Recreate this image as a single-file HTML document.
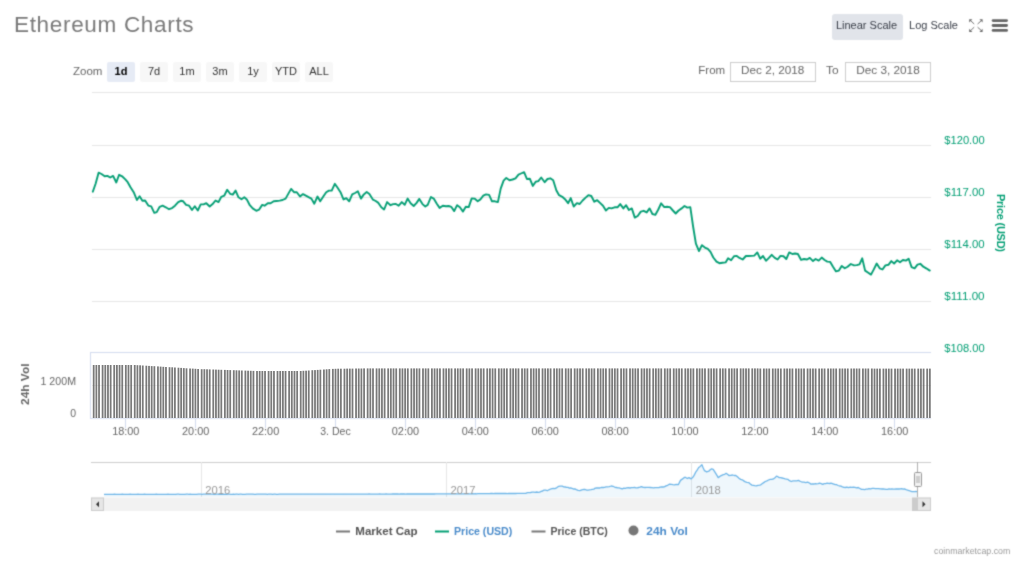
<!DOCTYPE html>
<html><head><meta charset="utf-8"><title>Ethereum Charts</title>
<style>
html,body{margin:0;padding:0;background:#fff;}
body{width:1024px;height:567px;overflow:hidden;position:relative;font-family:"Liberation Sans",sans-serif;}
#wrap{position:absolute;left:0;top:0;width:1024px;height:567px;filter:url(#soft);}
#title{position:absolute;left:14px;top:10px;font-size:22.5px;color:#7a7a7a;letter-spacing:0.68px;white-space:nowrap;line-height:30px;}
.sb{position:absolute;top:14px;height:26px;line-height:23px;font-size:11px;color:#383d47;white-space:nowrap;border-radius:3px;text-align:center;}
#lin{left:832px;width:71px;background:#e1e4ea;text-indent:-2px;}
#log{left:904px;width:59px;}
svg text{font-family:"Liberation Sans",sans-serif;}
</style></head><body>
<svg width="0" height="0" style="position:absolute"><filter id="soft" x="0" y="0" width="100%" height="100%" color-interpolation-filters="sRGB"><feConvolveMatrix order="3" kernelMatrix="0.03 0.10 0.03 0.10 0.48 0.10 0.03 0.10 0.03" edgeMode="duplicate" preserveAlpha="false"/></filter></svg>
<div id="wrap">
<div id="title">Ethereum Charts</div>
<div class="sb" id="lin">Linear Scale</div>
<div class="sb" id="log">Log Scale</div>
<svg width="1024" height="567" viewBox="0 0 1024 567" style="position:absolute;left:0;top:0">
<!-- top icons -->
<g stroke="#707070" stroke-width="1" fill="#6a6a6a">
<path d="M970.5 20.5 L974.2 24 M981.5 20.5 L977.6 24 M970.5 30.7 L974.2 27.2 M981.5 30.7 L977.6 27.2" fill="none"/>
<path d="M969.2 19.2 h3.2 l-3.2 3.2z M982.6 19.2 h-3.2 l3.2 3.2z M969.2 31.9 h3.2 l-3.2 -3.2z M982.6 31.9 h-3.2 l3.2 -3.2z" stroke="none"/>
</g>
<g fill="#666"><rect x="991.7" y="19.2" width="16.3" height="2.8" rx="1.4"/><rect x="991.7" y="24.1" width="16.3" height="2.8" rx="1.4"/><rect x="991.7" y="29" width="16.3" height="2.8" rx="1.4"/></g>
<!-- range selector -->
<text x="73" y="75" font-size="11.5" fill="#666">Zoom</text>
<g font-size="11" fill="#333" text-anchor="middle">
<rect x="107" y="62" width="28" height="20" rx="2" fill="#e6ebf5"/>
<rect x="140" y="62" width="28" height="20" rx="2" fill="#f7f7f7"/>
<rect x="173" y="62" width="28" height="20" rx="2" fill="#f7f7f7"/>
<rect x="206" y="62" width="28" height="20" rx="2" fill="#f7f7f7"/>
<rect x="239" y="62" width="28" height="20" rx="2" fill="#f7f7f7"/>
<rect x="272" y="62" width="28" height="20" rx="2" fill="#f7f7f7"/>
<rect x="305" y="62" width="28" height="20" rx="2" fill="#f7f7f7"/>
<text x="121" y="75" font-weight="bold" fill="#000">1d</text>
<text x="154" y="75">7d</text>
<text x="187" y="75">1m</text>
<text x="220" y="75">3m</text>
<text x="253" y="75">1y</text>
<text x="286" y="75">YTD</text>
<text x="319" y="75">ALL</text>
</g>
<g font-size="11.5" fill="#666">
<text x="698.3" y="74.2">From</text>
<rect x="730.5" y="62.5" width="85" height="19" fill="#fff" stroke="#ccc"/>
<text x="741" y="74.2" textLength="63.3" lengthAdjust="spacingAndGlyphs">Dec 2, 2018</text>
<text x="826" y="74.2" textLength="12.6" lengthAdjust="spacingAndGlyphs">To</text>
<rect x="845.5" y="62.5" width="85" height="19" fill="#fff" stroke="#ccc"/>
<text x="856.2" y="74.2" textLength="63.5" lengthAdjust="spacingAndGlyphs">Dec 3, 2018</text>
</g>
<path d="M92 92.5 H931" stroke="#e6e6e6" fill="none"/>
<!-- price grid -->
<g stroke="#e6e6e6" fill="none"><path d="M92 145.5 H931"/><path d="M92 197.5 H931"/><path d="M92 249.5 H931"/><path d="M92 301.5 H931"/></g>
<g font-size="10" fill="#009e73"><text x="944.3" y="144" textLength="40.3" lengthAdjust="spacingAndGlyphs">$120.00</text><text x="944.3" y="196" textLength="40.3" lengthAdjust="spacingAndGlyphs">$117.00</text><text x="944.3" y="248" textLength="40.3" lengthAdjust="spacingAndGlyphs">$114.00</text><text x="944.3" y="300" textLength="40.3" lengthAdjust="spacingAndGlyphs">$111.00</text><text x="944.3" y="352" textLength="40.3" lengthAdjust="spacingAndGlyphs">$108.00</text></g>
<text transform="translate(997,194) rotate(90)" font-size="11" letter-spacing="-0.25" font-weight="bold" fill="#009e73">Price (USD)</text>
<!-- price line -->
<path d="M92.8 191.7 L95.6 183.8 L98.6 172.7 L101.5 174.0 L104.7 176.3 L107.4 175.9 L110.2 177.5 L113.1 175.9 L116.3 182.5 L119.1 174.8 L122.1 176.3 L125.3 179.4 L127.7 182.2 L130.5 187.3 L133.7 192.2 L136.9 200.0 L139.6 196.2 L142.4 200.8 L145.1 200.5 L148.3 205.6 L151.2 206.3 L154.3 212.9 L156.7 212.1 L159.7 206.8 L162.6 205.7 L165.8 207.3 L169.0 209.2 L172.1 208.1 L175.0 205.7 L178.2 202.1 L180.9 200.8 L183.2 201.3 L186.1 204.8 L189.1 205.7 L192.0 210.0 L194.8 206.3 L197.8 210.5 L200.7 204.4 L203.6 204.4 L206.3 203.2 L209.7 206.5 L212.6 204.1 L215.5 200.5 L218.5 202.1 L221.3 196.8 L224.2 195.7 L227.2 189.8 L230.1 193.8 L232.8 194.6 L235.6 190.6 L238.5 197.3 L241.5 199.2 L244.3 197.3 L246.8 199.4 L249.8 205.2 L252.7 208.4 L256.3 210.8 L259.0 209.7 L262.2 204.9 L264.6 205.7 L267.8 203.2 L270.6 203.3 L273.7 201.3 L276.5 201.0 L279.7 200.6 L282.5 200.0 L285.6 198.6 L288.1 194.1 L291.1 188.9 L294.0 192.2 L296.8 192.2 L300.0 196.5 L303.0 194.1 L305.9 195.7 L309.0 197.3 L311.4 198.6 L314.3 203.7 L317.5 196.5 L320.2 201.3 L323.3 196.5 L326.2 192.2 L328.9 190.6 L331.7 190.6 L334.8 183.8 L337.6 187.8 L340.5 192.2 L343.5 199.4 L346.3 198.1 L349.2 201.3 L352.2 194.4 L355.1 193.0 L357.9 191.3 L361.0 198.6 L363.8 194.4 L366.7 192.1 L369.4 194.1 L373.0 199.7 L375.7 201.0 L378.4 202.9 L381.3 207.3 L384.1 209.5 L387.1 202.1 L390.5 205.2 L393.2 204.1 L395.9 204.0 L398.7 205.7 L401.8 202.1 L404.7 204.8 L407.6 198.6 L410.6 203.2 L413.7 206.0 L416.6 202.9 L419.3 198.9 L422.5 204.1 L425.3 206.5 L427.7 204.9 L430.9 197.0 L433.7 198.6 L436.8 203.7 L439.6 207.9 L442.8 205.7 L446.0 206.3 L448.7 206.0 L451.2 206.8 L454.2 211.1 L457.1 205.2 L459.9 207.3 L463.0 211.6 L465.8 206.8 L468.7 207.1 L471.7 198.4 L474.5 198.6 L477.7 201.3 L480.4 199.4 L483.3 195.7 L486.0 194.4 L489.1 194.9 L492.0 201.3 L494.9 201.3 L497.9 202.1 L500.7 188.6 L503.6 180.6 L506.3 177.9 L509.5 180.2 L512.6 179.5 L515.5 178.3 L518.5 174.6 L521.0 173.5 L524.1 172.2 L526.9 179.0 L529.8 178.7 L532.8 185.9 L535.7 181.7 L538.3 181.1 L541.2 177.5 L544.7 182.2 L547.5 179.0 L550.3 178.3 L553.2 180.2 L556.4 190.5 L559.1 195.2 L562.3 196.8 L565.0 199.2 L568.1 203.2 L570.7 198.1 L573.7 206.5 L576.9 203.2 L579.7 204.0 L582.6 200.5 L585.6 197.6 L588.4 195.2 L591.3 196.0 L594.3 201.7 L597.2 200.2 L600.0 202.9 L603.0 205.7 L605.9 210.5 L608.8 207.9 L611.5 208.4 L614.6 207.3 L617.5 207.3 L620.2 204.1 L623.4 208.4 L626.1 205.2 L628.9 210.0 L631.8 208.4 L634.8 217.6 L637.7 216.0 L640.8 211.6 L643.7 210.8 L646.7 212.4 L649.6 208.4 L652.4 214.0 L655.4 214.8 L658.3 209.5 L661.1 203.3 L664.3 207.1 L667.0 206.8 L669.9 207.1 L672.9 210.5 L675.7 213.5 L678.6 210.5 L681.6 208.4 L684.5 206.0 L687.3 207.6 L690.3 207.1 L693.1 226.5 L695.9 243.7 L699.0 251.1 L701.9 245.2 L704.9 247.6 L707.8 248.9 L710.5 251.9 L713.3 257.5 L716.5 261.6 L719.4 263.2 L722.5 262.7 L725.6 262.4 L728.1 258.3 L731.1 260.3 L734.0 256.3 L736.8 255.9 L739.5 257.9 L742.7 259.5 L745.9 256.0 L748.7 256.0 L751.4 255.9 L754.3 255.6 L757.3 252.4 L760.2 258.7 L763.0 256.0 L766.0 260.8 L768.9 257.9 L771.7 254.8 L774.8 257.9 L777.6 259.5 L780.5 255.9 L783.5 256.3 L786.3 259.0 L789.2 252.4 L792.4 254.0 L795.1 253.5 L797.9 254.0 L801.0 259.8 L804.0 259.0 L807.1 259.5 L809.8 257.9 L813.0 261.1 L815.6 259.0 L818.7 260.6 L821.7 257.6 L824.6 260.0 L827.3 261.6 L830.2 261.9 L833.0 266.7 L836.0 271.4 L838.9 270.6 L841.7 265.9 L844.8 268.3 L847.6 266.7 L850.8 264.0 L854.0 265.4 L856.8 265.1 L859.5 264.3 L862.2 258.3 L865.1 270.6 L867.9 272.5 L871.0 274.6 L873.8 269.4 L876.7 263.5 L879.7 268.3 L882.5 269.5 L885.4 265.4 L888.4 264.8 L891.3 261.1 L894.1 263.5 L897.1 260.3 L900.0 262.2 L902.9 260.0 L905.9 260.6 L908.7 258.7 L911.6 267.1 L914.6 268.3 L917.5 264.6 L920.3 263.8 L923.3 266.7 L926.2 268.3 L929.8 270.6" fill="none" stroke="#069f75" stroke-width="1.9" stroke-linejoin="round" stroke-linecap="round"/>
<!-- volume -->
<path d="M90 352.5 H931" stroke="#d3dbee" fill="none"/>
<path d="M90.5 352 V418" stroke="#d3dbee" fill="none"/>
<path d="M90 418.5 H931" stroke="#d3dbee" fill="none"/>
<g stroke="#d3dbee" fill="none"><path d="M125.5 418 V428"/><path d="M195.5 418 V428"/><path d="M265.5 418 V428"/><path d="M335.5 418 V428"/><path d="M405.5 418 V428"/><path d="M475.5 418 V428"/><path d="M545.5 418 V428"/><path d="M615.5 418 V428"/><path d="M684.5 418 V428"/><path d="M754.5 418 V428"/><path d="M824.5 418 V428"/><path d="M894.5 418 V428"/></g>
<g font-size="10.5" fill="#666"><text x="125.8" y="435" text-anchor="middle" textLength="27.3" lengthAdjust="spacingAndGlyphs">18:00</text><text x="195.7" y="435" text-anchor="middle" textLength="27.3" lengthAdjust="spacingAndGlyphs">20:00</text><text x="265.6" y="435" text-anchor="middle" textLength="27.3" lengthAdjust="spacingAndGlyphs">22:00</text><text x="335.5" y="435" text-anchor="middle" textLength="30.5" lengthAdjust="spacingAndGlyphs">3. Dec</text><text x="405.4" y="435" text-anchor="middle" textLength="27.3" lengthAdjust="spacingAndGlyphs">02:00</text><text x="475.3" y="435" text-anchor="middle" textLength="27.3" lengthAdjust="spacingAndGlyphs">04:00</text><text x="545.2" y="435" text-anchor="middle" textLength="27.3" lengthAdjust="spacingAndGlyphs">06:00</text><text x="615.1" y="435" text-anchor="middle" textLength="27.3" lengthAdjust="spacingAndGlyphs">08:00</text><text x="685.0" y="435" text-anchor="middle" textLength="27.3" lengthAdjust="spacingAndGlyphs">10:00</text><text x="754.9" y="435" text-anchor="middle" textLength="27.3" lengthAdjust="spacingAndGlyphs">12:00</text><text x="824.8" y="435" text-anchor="middle" textLength="27.3" lengthAdjust="spacingAndGlyphs">14:00</text><text x="894.7" y="435" text-anchor="middle" textLength="27.3" lengthAdjust="spacingAndGlyphs">16:00</text>
<text x="40.5" y="384.8" textLength="35.5" lengthAdjust="spacingAndGlyphs">1 200M</text>
<text x="76" y="416.7" text-anchor="end">0</text>
</g>
<text transform="translate(29.3,405) rotate(-90)" font-size="11.5" textLength="41.5" lengthAdjust="spacingAndGlyphs" font-weight="bold" fill="#666">24h Vol</text>
<!-- navigator -->
<path d="M91 462.5 H931" stroke="#ccc" fill="none"/>
<g stroke="#e6e6e6" fill="none"><path d="M201.5 462 V497"/><path d="M446.5 462 V497"/><path d="M691.5 462 V497"/></g>
<path d="M104.0 494.3 L105.3 494.3 L106.6 494.3 L107.9 494.3 L109.2 494.3 L110.5 494.3 L111.8 494.3 L113.1 494.3 L114.5 494.2 L115.8 494.3 L117.1 494.3 L118.4 494.3 L119.7 494.3 L121.0 494.3 L122.3 494.2 L123.6 494.3 L124.9 494.3 L126.2 494.3 L127.5 494.3 L128.8 494.3 L130.1 494.2 L131.4 494.3 L132.7 494.3 L134.1 494.3 L135.4 494.3 L136.7 494.3 L138.0 494.2 L139.3 494.3 L140.6 494.3 L141.9 494.3 L143.2 494.3 L144.5 494.2 L145.8 494.3 L147.1 494.3 L148.4 494.3 L149.7 494.3 L151.0 494.3 L152.3 494.3 L153.7 494.3 L155.0 494.3 L156.3 494.2 L157.6 494.3 L158.9 494.3 L160.2 494.3 L161.5 494.3 L162.8 494.3 L164.1 494.3 L165.4 494.3 L166.7 494.3 L168.0 494.2 L169.3 494.3 L170.6 494.3 L171.9 494.3 L173.3 494.3 L174.6 494.3 L175.9 494.3 L177.2 494.2 L178.5 494.2 L179.8 494.3 L181.1 494.3 L182.4 494.3 L183.7 494.3 L185.0 494.3 L186.3 494.2 L187.6 494.2 L188.9 494.3 L190.2 494.2 L191.5 494.3 L192.9 494.3 L194.2 494.3 L195.5 494.3 L196.8 494.3 L198.1 494.2 L199.4 494.2 L200.7 494.2 L202.0 494.3 L203.3 494.2 L204.6 494.2 L205.9 494.2 L207.2 494.2 L208.5 494.2 L209.8 494.2 L211.1 494.2 L212.5 494.2 L213.8 494.3 L215.1 494.3 L216.4 494.2 L217.7 494.2 L219.0 494.3 L220.3 494.3 L221.6 494.3 L222.9 494.3 L224.2 494.3 L225.5 494.2 L226.8 494.3 L228.1 494.2 L229.4 494.2 L230.7 494.3 L232.1 494.3 L233.4 494.2 L234.7 494.3 L236.0 494.2 L237.3 494.2 L238.6 494.3 L239.9 494.2 L241.2 494.2 L242.5 494.3 L243.8 494.3 L245.1 494.3 L246.4 494.2 L247.7 494.2 L249.0 494.2 L250.3 494.2 L251.7 494.2 L253.0 494.2 L254.3 494.3 L255.6 494.3 L256.9 494.2 L258.2 494.2 L259.5 494.2 L260.8 494.2 L262.1 494.2 L263.4 494.2 L264.7 494.2 L266.0 494.2 L267.3 494.3 L268.6 494.2 L269.9 494.2 L271.3 494.2 L272.6 494.3 L273.9 494.2 L275.2 494.2 L276.5 494.3 L277.8 494.3 L279.1 494.2 L280.4 494.2 L281.7 494.2 L283.0 494.2 L284.3 494.2 L285.6 494.2 L286.9 494.2 L288.2 494.2 L289.5 494.2 L290.9 494.2 L292.2 494.2 L293.5 494.2 L294.8 494.2 L296.1 494.2 L297.4 494.2 L298.7 494.2 L300.0 494.2 L301.3 494.2 L302.6 494.1 L303.9 494.2 L305.2 494.2 L306.5 494.2 L307.8 494.1 L309.1 494.2 L310.4 494.2 L311.7 494.2 L313.0 494.2 L314.3 494.1 L315.7 494.1 L317.0 494.2 L318.3 494.2 L319.6 494.2 L320.9 494.2 L322.2 494.2 L323.5 494.2 L324.8 494.2 L326.1 494.1 L327.4 494.1 L328.7 494.1 L330.0 494.1 L331.3 494.2 L332.6 494.1 L333.9 494.2 L335.2 494.1 L336.5 494.1 L337.8 494.1 L339.1 494.1 L340.4 494.1 L341.7 494.1 L343.0 494.1 L344.3 494.2 L345.7 494.1 L347.0 494.1 L348.3 494.1 L349.6 494.1 L350.9 494.1 L352.2 494.2 L353.5 494.1 L354.8 494.1 L356.1 494.1 L357.4 494.1 L358.7 494.1 L360.0 494.1 L361.3 494.1 L362.6 494.1 L363.9 494.1 L365.2 494.1 L366.5 494.1 L367.8 494.1 L369.1 494.0 L370.4 494.1 L371.7 494.1 L373.0 494.1 L374.3 494.1 L375.7 494.1 L377.0 494.1 L378.3 494.1 L379.6 494.0 L380.9 494.1 L382.2 494.1 L383.5 494.1 L384.8 494.1 L386.1 494.0 L387.4 494.1 L388.7 494.1 L390.0 494.1 L391.3 494.1 L392.6 494.0 L393.9 494.0 L395.2 494.0 L396.5 494.0 L397.8 494.0 L399.1 494.1 L400.4 494.0 L401.7 494.0 L403.0 494.0 L404.3 494.0 L405.7 494.1 L407.0 494.0 L408.3 494.0 L409.6 494.0 L410.9 494.0 L412.2 494.0 L413.5 494.0 L414.8 494.0 L416.1 494.0 L417.4 494.0 L418.7 494.0 L420.0 494.0 L421.3 494.0 L422.6 494.0 L423.9 494.0 L425.3 494.0 L426.6 493.9 L427.9 494.0 L429.2 493.9 L430.5 494.0 L431.8 494.0 L433.2 493.9 L434.5 494.0 L435.8 493.9 L437.1 493.9 L438.4 493.9 L439.7 493.9 L441.1 493.9 L442.4 493.9 L443.7 493.9 L445.0 493.9 L446.3 493.9 L447.6 493.9 L448.9 493.8 L450.3 493.8 L451.6 493.9 L452.9 493.9 L454.2 493.8 L455.5 493.9 L456.8 493.8 L458.2 493.9 L459.5 493.9 L460.8 493.8 L462.1 493.8 L463.4 493.8 L464.7 493.9 L466.1 493.8 L467.4 493.8 L468.7 493.8 L470.0 493.8 L471.3 493.8 L472.6 493.7 L473.9 493.8 L475.2 493.7 L476.5 493.8 L477.8 493.7 L479.1 493.7 L480.4 493.7 L481.7 493.7 L483.0 493.7 L484.3 493.7 L485.7 493.6 L487.0 493.6 L488.3 493.6 L489.6 493.6 L490.9 493.5 L492.2 493.5 L493.5 493.6 L494.8 493.5 L496.1 493.5 L497.4 493.5 L498.7 493.5 L500.0 493.5 L501.4 493.5 L502.9 493.5 L504.3 493.5 L505.7 493.4 L507.2 493.6 L508.6 493.5 L510.0 493.5 L511.5 493.5 L512.9 493.5 L514.3 493.5 L515.8 493.5 L517.2 493.4 L518.6 493.4 L520.1 493.4 L521.5 493.4 L522.9 493.4 L524.4 493.3 L525.8 493.3 L527.4 492.7 L529.0 492.6 L530.6 492.5 L532.2 492.2 L533.7 492.2 L535.2 492.4 L536.7 492.0 L538.2 492.3 L539.7 492.2 L541.1 491.4 L542.6 491.0 L544.0 490.1 L545.6 490.2 L547.3 490.7 L548.9 489.8 L550.5 489.0 L551.9 488.6 L553.4 488.5 L554.8 488.6 L556.6 487.8 L558.4 486.4 L560.3 486.2 L562.3 486.2 L563.7 486.8 L565.2 487.0 L566.6 487.3 L568.0 487.3 L569.3 488.1 L570.6 487.8 L572.0 488.4 L573.4 489.0 L574.9 488.9 L576.3 489.6 L578.1 490.3 L579.9 490.7 L581.8 489.8 L583.8 489.4 L585.2 489.5 L586.7 490.2 L588.1 490.1 L589.5 489.9 L591.0 489.7 L592.4 489.4 L593.8 489.1 L595.3 488.1 L596.7 487.9 L598.3 488.0 L599.9 488.0 L601.5 487.4 L603.1 487.5 L604.5 487.3 L606.0 486.9 L607.4 486.9 L609.3 486.6 L611.3 486.0 L613.1 486.3 L614.9 487.3 L616.3 487.5 L617.8 487.9 L619.2 487.9 L620.8 488.5 L622.4 488.8 L623.8 488.2 L625.3 488.4 L626.7 487.9 L628.3 487.7 L630.0 488.0 L631.6 487.7 L633.2 487.7 L634.6 487.4 L635.9 487.8 L637.2 487.8 L638.6 487.5 L640.0 487.2 L641.4 486.6 L643.2 487.4 L645.0 487.5 L646.4 487.3 L647.7 487.3 L649.0 487.3 L650.4 487.5 L652.0 487.7 L653.6 487.9 L655.0 487.7 L656.3 487.6 L657.6 487.6 L659.0 487.5 L660.3 487.2 L661.6 486.9 L663.0 487.0 L664.3 486.9 L666.0 485.9 L667.6 485.3 L669.7 484.1 L671.3 484.4 L672.9 484.7 L674.5 484.8 L676.2 484.3 L678.3 484.7 L680.5 480.4 L682.6 478.9 L683.9 477.8 L685.2 477.2 L687.3 478.5 L689.0 477.6 L691.2 478.9 L693.3 476.8 L694.6 474.4 L695.9 471.8 L697.3 469.8 L698.7 467.5 L700.2 466.4 L701.9 464.7 L703.0 467.5 L704.5 470.7 L706.7 471.8 L708.8 471.2 L710.2 469.8 L711.6 468.8 L713.2 469.3 L715.4 472.9 L716.8 475.2 L718.2 477.6 L720.7 475.8 L723.3 474.6 L724.7 474.3 L726.1 473.3 L727.5 474.3 L728.9 475.5 L730.8 475.4 L732.6 475.0 L734.2 475.5 L735.8 475.5 L737.4 476.8 L739.0 478.3 L740.6 479.4 L742.2 479.8 L743.8 480.9 L745.4 481.9 L747.0 482.3 L748.7 482.6 L750.3 484.0 L751.9 485.1 L753.3 485.3 L754.8 485.7 L756.2 485.8 L758.0 485.3 L759.8 485.1 L761.1 484.6 L762.4 483.5 L763.7 482.6 L765.3 481.5 L766.9 480.8 L768.5 480.0 L770.2 479.3 L771.8 479.4 L773.4 478.9 L775.0 477.7 L776.6 476.1 L777.9 476.8 L779.2 477.6 L780.6 477.7 L782.0 478.0 L783.6 478.4 L785.2 478.9 L787.8 479.3 L789.5 480.7 L791.2 481.5 L793.0 480.9 L794.9 480.8 L796.7 480.9 L798.5 480.4 L800.5 481.5 L802.4 482.1 L804.0 482.2 L805.6 482.6 L807.7 482.1 L809.4 483.0 L811.0 484.1 L812.4 484.0 L813.9 484.0 L815.3 483.6 L816.7 483.8 L818.2 483.7 L819.6 483.2 L821.2 483.6 L822.8 484.3 L824.2 483.7 L825.7 483.6 L827.1 483.2 L828.4 483.3 L829.8 483.5 L831.1 483.2 L832.4 483.6 L833.8 484.1 L835.3 484.6 L836.7 484.7 L838.1 485.5 L839.6 486.0 L841.0 486.2 L842.4 486.9 L843.9 487.4 L845.3 487.5 L846.9 487.1 L848.5 487.7 L850.2 487.2 L851.8 487.3 L853.4 487.2 L855.0 487.4 L856.6 487.8 L858.2 487.5 L859.9 488.5 L861.5 489.4 L863.1 489.4 L864.7 489.6 L866.1 489.2 L867.6 489.2 L869.0 488.6 L870.6 488.8 L872.2 488.3 L873.8 488.4 L875.4 488.6 L877.0 488.6 L878.6 488.6 L880.3 488.9 L881.9 489.0 L883.3 488.8 L884.7 489.1 L886.1 489.4 L887.6 489.4 L889.0 488.9 L890.4 489.2 L891.8 489.0 L893.3 489.1 L894.7 489.2 L896.1 489.0 L897.6 488.9 L899.0 489.0 L900.4 488.8 L901.7 488.7 L903.0 489.1 L904.4 488.8 L906.0 489.6 L907.6 490.1 L909.0 490.5 L910.5 491.2 L911.9 491.6 L913.2 491.6 L914.6 491.6 L915.9 491.5 L917.3 491.6 L917.3 497 L104 497 Z" fill="#6fb6e8" fill-opacity="0.11" stroke="none"/>
<path d="M104.0 494.3 L105.3 494.3 L106.6 494.3 L107.9 494.3 L109.2 494.3 L110.5 494.3 L111.8 494.3 L113.1 494.3 L114.5 494.2 L115.8 494.3 L117.1 494.3 L118.4 494.3 L119.7 494.3 L121.0 494.3 L122.3 494.2 L123.6 494.3 L124.9 494.3 L126.2 494.3 L127.5 494.3 L128.8 494.3 L130.1 494.2 L131.4 494.3 L132.7 494.3 L134.1 494.3 L135.4 494.3 L136.7 494.3 L138.0 494.2 L139.3 494.3 L140.6 494.3 L141.9 494.3 L143.2 494.3 L144.5 494.2 L145.8 494.3 L147.1 494.3 L148.4 494.3 L149.7 494.3 L151.0 494.3 L152.3 494.3 L153.7 494.3 L155.0 494.3 L156.3 494.2 L157.6 494.3 L158.9 494.3 L160.2 494.3 L161.5 494.3 L162.8 494.3 L164.1 494.3 L165.4 494.3 L166.7 494.3 L168.0 494.2 L169.3 494.3 L170.6 494.3 L171.9 494.3 L173.3 494.3 L174.6 494.3 L175.9 494.3 L177.2 494.2 L178.5 494.2 L179.8 494.3 L181.1 494.3 L182.4 494.3 L183.7 494.3 L185.0 494.3 L186.3 494.2 L187.6 494.2 L188.9 494.3 L190.2 494.2 L191.5 494.3 L192.9 494.3 L194.2 494.3 L195.5 494.3 L196.8 494.3 L198.1 494.2 L199.4 494.2 L200.7 494.2 L202.0 494.3 L203.3 494.2 L204.6 494.2 L205.9 494.2 L207.2 494.2 L208.5 494.2 L209.8 494.2 L211.1 494.2 L212.5 494.2 L213.8 494.3 L215.1 494.3 L216.4 494.2 L217.7 494.2 L219.0 494.3 L220.3 494.3 L221.6 494.3 L222.9 494.3 L224.2 494.3 L225.5 494.2 L226.8 494.3 L228.1 494.2 L229.4 494.2 L230.7 494.3 L232.1 494.3 L233.4 494.2 L234.7 494.3 L236.0 494.2 L237.3 494.2 L238.6 494.3 L239.9 494.2 L241.2 494.2 L242.5 494.3 L243.8 494.3 L245.1 494.3 L246.4 494.2 L247.7 494.2 L249.0 494.2 L250.3 494.2 L251.7 494.2 L253.0 494.2 L254.3 494.3 L255.6 494.3 L256.9 494.2 L258.2 494.2 L259.5 494.2 L260.8 494.2 L262.1 494.2 L263.4 494.2 L264.7 494.2 L266.0 494.2 L267.3 494.3 L268.6 494.2 L269.9 494.2 L271.3 494.2 L272.6 494.3 L273.9 494.2 L275.2 494.2 L276.5 494.3 L277.8 494.3 L279.1 494.2 L280.4 494.2 L281.7 494.2 L283.0 494.2 L284.3 494.2 L285.6 494.2 L286.9 494.2 L288.2 494.2 L289.5 494.2 L290.9 494.2 L292.2 494.2 L293.5 494.2 L294.8 494.2 L296.1 494.2 L297.4 494.2 L298.7 494.2 L300.0 494.2 L301.3 494.2 L302.6 494.1 L303.9 494.2 L305.2 494.2 L306.5 494.2 L307.8 494.1 L309.1 494.2 L310.4 494.2 L311.7 494.2 L313.0 494.2 L314.3 494.1 L315.7 494.1 L317.0 494.2 L318.3 494.2 L319.6 494.2 L320.9 494.2 L322.2 494.2 L323.5 494.2 L324.8 494.2 L326.1 494.1 L327.4 494.1 L328.7 494.1 L330.0 494.1 L331.3 494.2 L332.6 494.1 L333.9 494.2 L335.2 494.1 L336.5 494.1 L337.8 494.1 L339.1 494.1 L340.4 494.1 L341.7 494.1 L343.0 494.1 L344.3 494.2 L345.7 494.1 L347.0 494.1 L348.3 494.1 L349.6 494.1 L350.9 494.1 L352.2 494.2 L353.5 494.1 L354.8 494.1 L356.1 494.1 L357.4 494.1 L358.7 494.1 L360.0 494.1 L361.3 494.1 L362.6 494.1 L363.9 494.1 L365.2 494.1 L366.5 494.1 L367.8 494.1 L369.1 494.0 L370.4 494.1 L371.7 494.1 L373.0 494.1 L374.3 494.1 L375.7 494.1 L377.0 494.1 L378.3 494.1 L379.6 494.0 L380.9 494.1 L382.2 494.1 L383.5 494.1 L384.8 494.1 L386.1 494.0 L387.4 494.1 L388.7 494.1 L390.0 494.1 L391.3 494.1 L392.6 494.0 L393.9 494.0 L395.2 494.0 L396.5 494.0 L397.8 494.0 L399.1 494.1 L400.4 494.0 L401.7 494.0 L403.0 494.0 L404.3 494.0 L405.7 494.1 L407.0 494.0 L408.3 494.0 L409.6 494.0 L410.9 494.0 L412.2 494.0 L413.5 494.0 L414.8 494.0 L416.1 494.0 L417.4 494.0 L418.7 494.0 L420.0 494.0 L421.3 494.0 L422.6 494.0 L423.9 494.0 L425.3 494.0 L426.6 493.9 L427.9 494.0 L429.2 493.9 L430.5 494.0 L431.8 494.0 L433.2 493.9 L434.5 494.0 L435.8 493.9 L437.1 493.9 L438.4 493.9 L439.7 493.9 L441.1 493.9 L442.4 493.9 L443.7 493.9 L445.0 493.9 L446.3 493.9 L447.6 493.9 L448.9 493.8 L450.3 493.8 L451.6 493.9 L452.9 493.9 L454.2 493.8 L455.5 493.9 L456.8 493.8 L458.2 493.9 L459.5 493.9 L460.8 493.8 L462.1 493.8 L463.4 493.8 L464.7 493.9 L466.1 493.8 L467.4 493.8 L468.7 493.8 L470.0 493.8 L471.3 493.8 L472.6 493.7 L473.9 493.8 L475.2 493.7 L476.5 493.8 L477.8 493.7 L479.1 493.7 L480.4 493.7 L481.7 493.7 L483.0 493.7 L484.3 493.7 L485.7 493.6 L487.0 493.6 L488.3 493.6 L489.6 493.6 L490.9 493.5 L492.2 493.5 L493.5 493.6 L494.8 493.5 L496.1 493.5 L497.4 493.5 L498.7 493.5 L500.0 493.5 L501.4 493.5 L502.9 493.5 L504.3 493.5 L505.7 493.4 L507.2 493.6 L508.6 493.5 L510.0 493.5 L511.5 493.5 L512.9 493.5 L514.3 493.5 L515.8 493.5 L517.2 493.4 L518.6 493.4 L520.1 493.4 L521.5 493.4 L522.9 493.4 L524.4 493.3 L525.8 493.3 L527.4 492.7 L529.0 492.6 L530.6 492.5 L532.2 492.2 L533.7 492.2 L535.2 492.4 L536.7 492.0 L538.2 492.3 L539.7 492.2 L541.1 491.4 L542.6 491.0 L544.0 490.1 L545.6 490.2 L547.3 490.7 L548.9 489.8 L550.5 489.0 L551.9 488.6 L553.4 488.5 L554.8 488.6 L556.6 487.8 L558.4 486.4 L560.3 486.2 L562.3 486.2 L563.7 486.8 L565.2 487.0 L566.6 487.3 L568.0 487.3 L569.3 488.1 L570.6 487.8 L572.0 488.4 L573.4 489.0 L574.9 488.9 L576.3 489.6 L578.1 490.3 L579.9 490.7 L581.8 489.8 L583.8 489.4 L585.2 489.5 L586.7 490.2 L588.1 490.1 L589.5 489.9 L591.0 489.7 L592.4 489.4 L593.8 489.1 L595.3 488.1 L596.7 487.9 L598.3 488.0 L599.9 488.0 L601.5 487.4 L603.1 487.5 L604.5 487.3 L606.0 486.9 L607.4 486.9 L609.3 486.6 L611.3 486.0 L613.1 486.3 L614.9 487.3 L616.3 487.5 L617.8 487.9 L619.2 487.9 L620.8 488.5 L622.4 488.8 L623.8 488.2 L625.3 488.4 L626.7 487.9 L628.3 487.7 L630.0 488.0 L631.6 487.7 L633.2 487.7 L634.6 487.4 L635.9 487.8 L637.2 487.8 L638.6 487.5 L640.0 487.2 L641.4 486.6 L643.2 487.4 L645.0 487.5 L646.4 487.3 L647.7 487.3 L649.0 487.3 L650.4 487.5 L652.0 487.7 L653.6 487.9 L655.0 487.7 L656.3 487.6 L657.6 487.6 L659.0 487.5 L660.3 487.2 L661.6 486.9 L663.0 487.0 L664.3 486.9 L666.0 485.9 L667.6 485.3 L669.7 484.1 L671.3 484.4 L672.9 484.7 L674.5 484.8 L676.2 484.3 L678.3 484.7 L680.5 480.4 L682.6 478.9 L683.9 477.8 L685.2 477.2 L687.3 478.5 L689.0 477.6 L691.2 478.9 L693.3 476.8 L694.6 474.4 L695.9 471.8 L697.3 469.8 L698.7 467.5 L700.2 466.4 L701.9 464.7 L703.0 467.5 L704.5 470.7 L706.7 471.8 L708.8 471.2 L710.2 469.8 L711.6 468.8 L713.2 469.3 L715.4 472.9 L716.8 475.2 L718.2 477.6 L720.7 475.8 L723.3 474.6 L724.7 474.3 L726.1 473.3 L727.5 474.3 L728.9 475.5 L730.8 475.4 L732.6 475.0 L734.2 475.5 L735.8 475.5 L737.4 476.8 L739.0 478.3 L740.6 479.4 L742.2 479.8 L743.8 480.9 L745.4 481.9 L747.0 482.3 L748.7 482.6 L750.3 484.0 L751.9 485.1 L753.3 485.3 L754.8 485.7 L756.2 485.8 L758.0 485.3 L759.8 485.1 L761.1 484.6 L762.4 483.5 L763.7 482.6 L765.3 481.5 L766.9 480.8 L768.5 480.0 L770.2 479.3 L771.8 479.4 L773.4 478.9 L775.0 477.7 L776.6 476.1 L777.9 476.8 L779.2 477.6 L780.6 477.7 L782.0 478.0 L783.6 478.4 L785.2 478.9 L787.8 479.3 L789.5 480.7 L791.2 481.5 L793.0 480.9 L794.9 480.8 L796.7 480.9 L798.5 480.4 L800.5 481.5 L802.4 482.1 L804.0 482.2 L805.6 482.6 L807.7 482.1 L809.4 483.0 L811.0 484.1 L812.4 484.0 L813.9 484.0 L815.3 483.6 L816.7 483.8 L818.2 483.7 L819.6 483.2 L821.2 483.6 L822.8 484.3 L824.2 483.7 L825.7 483.6 L827.1 483.2 L828.4 483.3 L829.8 483.5 L831.1 483.2 L832.4 483.6 L833.8 484.1 L835.3 484.6 L836.7 484.7 L838.1 485.5 L839.6 486.0 L841.0 486.2 L842.4 486.9 L843.9 487.4 L845.3 487.5 L846.9 487.1 L848.5 487.7 L850.2 487.2 L851.8 487.3 L853.4 487.2 L855.0 487.4 L856.6 487.8 L858.2 487.5 L859.9 488.5 L861.5 489.4 L863.1 489.4 L864.7 489.6 L866.1 489.2 L867.6 489.2 L869.0 488.6 L870.6 488.8 L872.2 488.3 L873.8 488.4 L875.4 488.6 L877.0 488.6 L878.6 488.6 L880.3 488.9 L881.9 489.0 L883.3 488.8 L884.7 489.1 L886.1 489.4 L887.6 489.4 L889.0 488.9 L890.4 489.2 L891.8 489.0 L893.3 489.1 L894.7 489.2 L896.1 489.0 L897.6 488.9 L899.0 489.0 L900.4 488.8 L901.7 488.7 L903.0 489.1 L904.4 488.8 L906.0 489.6 L907.6 490.1 L909.0 490.5 L910.5 491.2 L911.9 491.6 L913.2 491.6 L914.6 491.6 L915.9 491.5 L917.3 491.6" fill="none" stroke="#6fb6e8" stroke-width="1.3" stroke-linejoin="round"/>
<g font-size="10" fill="#999"><text x="205.3" y="494" textLength="25" lengthAdjust="spacingAndGlyphs">2016</text><text x="450.5" y="494" textLength="25" lengthAdjust="spacingAndGlyphs">2017</text><text x="695.8" y="494" textLength="25" lengthAdjust="spacingAndGlyphs">2018</text></g>
<path d="M917.5 462 V497" stroke="#b0b0b0" fill="none"/>
<rect x="914.5" y="472.5" width="7" height="14" rx="1" fill="#f2f2f2" stroke="#999"/>
<path d="M917 476 V483 M919 476 V483" stroke="#aaa" fill="none" stroke-width="1"/>
<!-- scrollbar -->
<rect x="91" y="497.5" width="840" height="13.5" fill="#f2f2f2"/>
<rect x="91.5" y="498" width="12" height="12.5" fill="#e6e6e6" stroke="#ccc"/>
<path d="M99 501.2 L96 504.2 L99 507.2Z" fill="#333"/>
<rect x="912.5" y="498" width="5" height="12.5" fill="#ccc" stroke="#ccc"/>
<rect x="917.5" y="498" width="13" height="12.5" fill="#e6e6e6" stroke="#ccc"/>
<path d="M922.5 501.2 L925.5 504.2 L922.5 507.2Z" fill="#333"/>
<!-- legend -->
<g font-size="11" font-weight="bold">
<path d="M336 531.5 H350" stroke="#777" stroke-width="2"/>
<text x="355.3" y="535" fill="#555" textLength="62.3" lengthAdjust="spacingAndGlyphs">Market Cap</text>
<path d="M435 531.5 H449" stroke="#009e73" stroke-width="2"/>
<text x="454" y="535" fill="#4a8bca" textLength="58.3" lengthAdjust="spacingAndGlyphs">Price (USD)</text>
<path d="M531.5 531.5 H545.5" stroke="#777" stroke-width="2"/>
<text x="550.5" y="535" fill="#555" textLength="57.3" lengthAdjust="spacingAndGlyphs">Price (BTC)</text>
<circle cx="633.5" cy="530.5" r="5" fill="#777"/>
<text x="646.3" y="535" fill="#4a8bca" textLength="41.5" lengthAdjust="spacingAndGlyphs">24h Vol</text>
</g>
<text x="934" y="554" font-size="8.5" fill="#999" textLength="76.3" lengthAdjust="spacingAndGlyphs">coinmarketcap.com</text>
</svg>
</div>
<svg width="1024" height="567" viewBox="0 0 1024 567" style="position:absolute;left:0;top:0">
<g fill="#7a7a7a"><rect x="92.80" y="365.0" width="1.78" height="53.0"/><rect x="95.48" y="365.0" width="1.78" height="53.0"/><rect x="98.15" y="365.0" width="1.78" height="53.0"/><rect x="101.72" y="365.0" width="1.78" height="53.0"/><rect x="104.40" y="365.0" width="1.78" height="53.0"/><rect x="107.08" y="365.0" width="1.78" height="53.0"/><rect x="109.76" y="365.0" width="1.78" height="53.0"/><rect x="113.32" y="365.0" width="1.78" height="53.0"/><rect x="116.00" y="365.0" width="1.78" height="53.0"/><rect x="118.68" y="365.0" width="1.78" height="53.0"/><rect x="121.36" y="365.0" width="1.78" height="53.0"/><rect x="124.93" y="365.0" width="1.78" height="53.0"/><rect x="127.60" y="365.0" width="1.78" height="53.0"/><rect x="130.28" y="365.0" width="1.78" height="53.0"/><rect x="133.85" y="365.0" width="1.78" height="53.0"/><rect x="136.53" y="365.2" width="1.78" height="52.8"/><rect x="139.20" y="365.3" width="1.78" height="52.7"/><rect x="141.88" y="365.5" width="1.78" height="52.5"/><rect x="145.45" y="365.7" width="1.78" height="52.3"/><rect x="148.13" y="365.9" width="1.78" height="52.1"/><rect x="150.80" y="366.1" width="1.78" height="51.9"/><rect x="153.48" y="366.2" width="1.78" height="51.8"/><rect x="157.05" y="366.4" width="1.78" height="51.6"/><rect x="159.73" y="366.6" width="1.78" height="51.4"/><rect x="162.41" y="366.8" width="1.78" height="51.2"/><rect x="165.08" y="367.0" width="1.78" height="51.0"/><rect x="168.65" y="367.2" width="1.78" height="50.8"/><rect x="171.33" y="367.3" width="1.78" height="50.7"/><rect x="174.01" y="367.5" width="1.78" height="50.5"/><rect x="177.58" y="367.7" width="1.78" height="50.3"/><rect x="180.25" y="367.9" width="1.78" height="50.1"/><rect x="182.93" y="368.1" width="1.78" height="49.9"/><rect x="185.61" y="368.3" width="1.78" height="49.7"/><rect x="189.18" y="368.5" width="1.78" height="49.5"/><rect x="191.85" y="368.6" width="1.78" height="49.4"/><rect x="194.53" y="368.8" width="1.78" height="49.2"/><rect x="197.21" y="369.0" width="1.78" height="49.0"/><rect x="200.78" y="369.2" width="1.78" height="48.8"/><rect x="203.46" y="369.2" width="1.78" height="48.8"/><rect x="206.13" y="369.3" width="1.78" height="48.7"/><rect x="208.81" y="369.4" width="1.78" height="48.6"/><rect x="212.38" y="369.5" width="1.78" height="48.5"/><rect x="215.06" y="369.6" width="1.78" height="48.4"/><rect x="217.73" y="369.7" width="1.78" height="48.3"/><rect x="220.41" y="369.8" width="1.78" height="48.2"/><rect x="223.98" y="369.9" width="1.78" height="48.1"/><rect x="226.66" y="370.0" width="1.78" height="48.0"/><rect x="229.33" y="370.1" width="1.78" height="47.9"/><rect x="232.90" y="370.2" width="1.78" height="47.8"/><rect x="235.58" y="370.3" width="1.78" height="47.7"/><rect x="238.26" y="370.4" width="1.78" height="47.6"/><rect x="240.93" y="370.5" width="1.78" height="47.5"/><rect x="244.50" y="370.6" width="1.78" height="47.4"/><rect x="247.18" y="370.7" width="1.78" height="47.3"/><rect x="249.86" y="370.8" width="1.78" height="47.2"/><rect x="252.54" y="370.9" width="1.78" height="47.1"/><rect x="256.11" y="371.0" width="1.78" height="47.0"/><rect x="258.78" y="371.0" width="1.78" height="47.0"/><rect x="261.46" y="371.0" width="1.78" height="47.0"/><rect x="264.14" y="371.0" width="1.78" height="47.0"/><rect x="267.71" y="371.0" width="1.78" height="47.0"/><rect x="270.38" y="371.0" width="1.78" height="47.0"/><rect x="273.06" y="371.0" width="1.78" height="47.0"/><rect x="276.63" y="371.0" width="1.78" height="47.0"/><rect x="279.31" y="371.0" width="1.78" height="47.0"/><rect x="281.98" y="371.0" width="1.78" height="47.0"/><rect x="284.66" y="371.0" width="1.78" height="47.0"/><rect x="288.23" y="371.0" width="1.78" height="47.0"/><rect x="290.91" y="371.0" width="1.78" height="47.0"/><rect x="293.59" y="371.0" width="1.78" height="47.0"/><rect x="296.26" y="371.0" width="1.78" height="47.0"/><rect x="299.83" y="371.0" width="1.78" height="47.0"/><rect x="302.51" y="370.8" width="1.78" height="47.2"/><rect x="305.19" y="370.7" width="1.78" height="47.3"/><rect x="307.86" y="370.5" width="1.78" height="47.5"/><rect x="311.43" y="370.2" width="1.78" height="47.8"/><rect x="314.11" y="370.1" width="1.78" height="47.9"/><rect x="316.79" y="369.9" width="1.78" height="48.1"/><rect x="319.46" y="369.7" width="1.78" height="48.3"/><rect x="323.03" y="369.5" width="1.78" height="48.5"/><rect x="325.71" y="369.3" width="1.78" height="48.7"/><rect x="328.39" y="369.1" width="1.78" height="48.9"/><rect x="331.96" y="368.9" width="1.78" height="49.1"/><rect x="334.63" y="368.8" width="1.78" height="49.2"/><rect x="337.31" y="368.7" width="1.78" height="49.3"/><rect x="339.99" y="368.7" width="1.78" height="49.3"/><rect x="343.56" y="368.7" width="1.78" height="49.3"/><rect x="346.24" y="368.6" width="1.78" height="49.4"/><rect x="348.91" y="368.6" width="1.78" height="49.4"/><rect x="351.59" y="368.6" width="1.78" height="49.4"/><rect x="355.16" y="368.5" width="1.78" height="49.5"/><rect x="357.84" y="368.5" width="1.78" height="49.5"/><rect x="360.51" y="368.5" width="1.78" height="49.5"/><rect x="363.19" y="368.4" width="1.78" height="49.6"/><rect x="366.76" y="368.4" width="1.78" height="49.6"/><rect x="369.44" y="368.4" width="1.78" height="49.6"/><rect x="372.11" y="368.4" width="1.78" height="49.6"/><rect x="375.68" y="368.4" width="1.78" height="49.6"/><rect x="378.36" y="368.4" width="1.78" height="49.6"/><rect x="381.04" y="368.4" width="1.78" height="49.6"/><rect x="383.72" y="368.4" width="1.78" height="49.6"/><rect x="387.29" y="368.4" width="1.78" height="49.6"/><rect x="389.96" y="368.4" width="1.78" height="49.6"/><rect x="392.64" y="368.4" width="1.78" height="49.6"/><rect x="395.32" y="368.4" width="1.78" height="49.6"/><rect x="398.89" y="368.4" width="1.78" height="49.6"/><rect x="401.56" y="368.4" width="1.78" height="49.6"/><rect x="404.24" y="368.4" width="1.78" height="49.6"/><rect x="406.92" y="368.4" width="1.78" height="49.6"/><rect x="410.49" y="368.4" width="1.78" height="49.6"/><rect x="413.16" y="368.4" width="1.78" height="49.6"/><rect x="415.84" y="368.4" width="1.78" height="49.6"/><rect x="418.52" y="368.4" width="1.78" height="49.6"/><rect x="422.09" y="368.4" width="1.78" height="49.6"/><rect x="424.77" y="368.4" width="1.78" height="49.6"/><rect x="427.44" y="368.4" width="1.78" height="49.6"/><rect x="431.01" y="368.4" width="1.78" height="49.6"/><rect x="433.69" y="368.4" width="1.78" height="49.6"/><rect x="436.37" y="368.4" width="1.78" height="49.6"/><rect x="439.04" y="368.4" width="1.78" height="49.6"/><rect x="442.61" y="368.4" width="1.78" height="49.6"/><rect x="445.29" y="368.4" width="1.78" height="49.6"/><rect x="447.97" y="368.4" width="1.78" height="49.6"/><rect x="450.64" y="368.4" width="1.78" height="49.6"/><rect x="454.21" y="368.4" width="1.78" height="49.6"/><rect x="456.89" y="368.4" width="1.78" height="49.6"/><rect x="459.57" y="368.4" width="1.78" height="49.6"/><rect x="462.24" y="368.4" width="1.78" height="49.6"/><rect x="465.81" y="368.4" width="1.78" height="49.6"/><rect x="468.49" y="368.4" width="1.78" height="49.6"/><rect x="471.17" y="368.4" width="1.78" height="49.6"/><rect x="474.74" y="368.4" width="1.78" height="49.6"/><rect x="477.42" y="368.4" width="1.78" height="49.6"/><rect x="480.09" y="368.4" width="1.78" height="49.6"/><rect x="482.77" y="368.4" width="1.78" height="49.6"/><rect x="486.34" y="368.4" width="1.78" height="49.6"/><rect x="489.02" y="368.4" width="1.78" height="49.6"/><rect x="491.69" y="368.4" width="1.78" height="49.6"/><rect x="494.37" y="368.4" width="1.78" height="49.6"/><rect x="497.94" y="368.4" width="1.78" height="49.6"/><rect x="500.62" y="368.4" width="1.78" height="49.6"/><rect x="503.29" y="368.4" width="1.78" height="49.6"/><rect x="505.97" y="368.4" width="1.78" height="49.6"/><rect x="509.54" y="368.4" width="1.78" height="49.6"/><rect x="512.22" y="368.4" width="1.78" height="49.6"/><rect x="514.90" y="368.4" width="1.78" height="49.6"/><rect x="517.57" y="368.4" width="1.78" height="49.6"/><rect x="521.14" y="368.4" width="1.78" height="49.6"/><rect x="523.82" y="368.4" width="1.78" height="49.6"/><rect x="526.50" y="368.4" width="1.78" height="49.6"/><rect x="530.07" y="368.4" width="1.78" height="49.6"/><rect x="532.74" y="368.4" width="1.78" height="49.6"/><rect x="535.42" y="368.4" width="1.78" height="49.6"/><rect x="538.10" y="368.4" width="1.78" height="49.6"/><rect x="541.67" y="368.4" width="1.78" height="49.6"/><rect x="544.34" y="368.4" width="1.78" height="49.6"/><rect x="547.02" y="368.4" width="1.78" height="49.6"/><rect x="549.70" y="368.4" width="1.78" height="49.6"/><rect x="553.27" y="368.4" width="1.78" height="49.6"/><rect x="555.94" y="368.4" width="1.78" height="49.6"/><rect x="558.62" y="368.4" width="1.78" height="49.6"/><rect x="561.30" y="368.4" width="1.78" height="49.6"/><rect x="564.87" y="368.4" width="1.78" height="49.6"/><rect x="567.55" y="368.4" width="1.78" height="49.6"/><rect x="570.22" y="368.4" width="1.78" height="49.6"/><rect x="573.79" y="368.4" width="1.78" height="49.6"/><rect x="576.47" y="368.4" width="1.78" height="49.6"/><rect x="579.15" y="368.4" width="1.78" height="49.6"/><rect x="581.82" y="368.4" width="1.78" height="49.6"/><rect x="585.39" y="368.4" width="1.78" height="49.6"/><rect x="588.07" y="368.4" width="1.78" height="49.6"/><rect x="590.75" y="368.4" width="1.78" height="49.6"/><rect x="593.42" y="368.4" width="1.78" height="49.6"/><rect x="596.99" y="368.4" width="1.78" height="49.6"/><rect x="599.67" y="368.4" width="1.78" height="49.6"/><rect x="602.35" y="368.4" width="1.78" height="49.6"/><rect x="605.03" y="368.4" width="1.78" height="49.6"/><rect x="608.60" y="368.4" width="1.78" height="49.6"/><rect x="611.27" y="368.4" width="1.78" height="49.6"/><rect x="613.95" y="368.4" width="1.78" height="49.6"/><rect x="616.63" y="368.4" width="1.78" height="49.6"/><rect x="620.20" y="368.4" width="1.78" height="49.6"/><rect x="622.87" y="368.4" width="1.78" height="49.6"/><rect x="625.55" y="368.4" width="1.78" height="49.6"/><rect x="629.12" y="368.4" width="1.78" height="49.6"/><rect x="631.80" y="368.4" width="1.78" height="49.6"/><rect x="634.47" y="368.4" width="1.78" height="49.6"/><rect x="637.15" y="368.4" width="1.78" height="49.6"/><rect x="640.72" y="368.4" width="1.78" height="49.6"/><rect x="643.40" y="368.4" width="1.78" height="49.6"/><rect x="646.08" y="368.4" width="1.78" height="49.6"/><rect x="648.75" y="368.4" width="1.78" height="49.6"/><rect x="652.32" y="368.4" width="1.78" height="49.6"/><rect x="655.00" y="368.4" width="1.78" height="49.6"/><rect x="657.68" y="368.4" width="1.78" height="49.6"/><rect x="660.35" y="368.4" width="1.78" height="49.6"/><rect x="663.92" y="368.4" width="1.78" height="49.6"/><rect x="666.60" y="368.4" width="1.78" height="49.6"/><rect x="669.28" y="368.4" width="1.78" height="49.6"/><rect x="672.85" y="368.4" width="1.78" height="49.6"/><rect x="675.52" y="368.4" width="1.78" height="49.6"/><rect x="678.20" y="368.4" width="1.78" height="49.6"/><rect x="680.88" y="368.4" width="1.78" height="49.6"/><rect x="684.45" y="368.4" width="1.78" height="49.6"/><rect x="687.12" y="368.4" width="1.78" height="49.6"/><rect x="689.80" y="368.4" width="1.78" height="49.6"/><rect x="692.48" y="368.4" width="1.78" height="49.6"/><rect x="696.05" y="368.4" width="1.78" height="49.6"/><rect x="698.73" y="368.4" width="1.78" height="49.6"/><rect x="701.40" y="368.4" width="1.78" height="49.6"/><rect x="704.08" y="368.4" width="1.78" height="49.6"/><rect x="707.65" y="368.4" width="1.78" height="49.6"/><rect x="710.33" y="368.4" width="1.78" height="49.6"/><rect x="713.00" y="368.4" width="1.78" height="49.6"/><rect x="715.68" y="368.4" width="1.78" height="49.6"/><rect x="719.25" y="368.4" width="1.78" height="49.6"/><rect x="721.93" y="368.4" width="1.78" height="49.6"/><rect x="724.60" y="368.4" width="1.78" height="49.6"/><rect x="728.17" y="368.4" width="1.78" height="49.6"/><rect x="730.85" y="368.4" width="1.78" height="49.6"/><rect x="733.53" y="368.4" width="1.78" height="49.6"/><rect x="736.21" y="368.4" width="1.78" height="49.6"/><rect x="739.77" y="368.4" width="1.78" height="49.6"/><rect x="742.45" y="368.4" width="1.78" height="49.6"/><rect x="745.13" y="368.4" width="1.78" height="49.6"/><rect x="747.81" y="368.4" width="1.78" height="49.6"/><rect x="751.38" y="368.4" width="1.78" height="49.6"/><rect x="754.05" y="368.4" width="1.78" height="49.6"/><rect x="756.73" y="368.4" width="1.78" height="49.6"/><rect x="759.41" y="368.5" width="1.78" height="49.5"/><rect x="762.98" y="368.5" width="1.78" height="49.5"/><rect x="765.65" y="368.5" width="1.78" height="49.5"/><rect x="768.33" y="368.5" width="1.78" height="49.5"/><rect x="771.90" y="368.5" width="1.78" height="49.5"/><rect x="774.58" y="368.5" width="1.78" height="49.5"/><rect x="777.25" y="368.5" width="1.78" height="49.5"/><rect x="779.93" y="368.5" width="1.78" height="49.5"/><rect x="783.50" y="368.5" width="1.78" height="49.5"/><rect x="786.18" y="368.5" width="1.78" height="49.5"/><rect x="788.86" y="368.5" width="1.78" height="49.5"/><rect x="791.53" y="368.5" width="1.78" height="49.5"/><rect x="795.10" y="368.5" width="1.78" height="49.5"/><rect x="797.78" y="368.5" width="1.78" height="49.5"/><rect x="800.46" y="368.5" width="1.78" height="49.5"/><rect x="803.13" y="368.5" width="1.78" height="49.5"/><rect x="806.70" y="368.5" width="1.78" height="49.5"/><rect x="809.38" y="368.5" width="1.78" height="49.5"/><rect x="812.06" y="368.5" width="1.78" height="49.5"/><rect x="814.73" y="368.5" width="1.78" height="49.5"/><rect x="818.30" y="368.5" width="1.78" height="49.5"/><rect x="820.98" y="368.5" width="1.78" height="49.5"/><rect x="823.66" y="368.5" width="1.78" height="49.5"/><rect x="827.23" y="368.5" width="1.78" height="49.5"/><rect x="829.91" y="368.5" width="1.78" height="49.5"/><rect x="832.58" y="368.5" width="1.78" height="49.5"/><rect x="835.26" y="368.5" width="1.78" height="49.5"/><rect x="838.83" y="368.5" width="1.78" height="49.5"/><rect x="841.51" y="368.5" width="1.78" height="49.5"/><rect x="844.18" y="368.5" width="1.78" height="49.5"/><rect x="846.86" y="368.5" width="1.78" height="49.5"/><rect x="850.43" y="368.5" width="1.78" height="49.5"/><rect x="853.11" y="368.5" width="1.78" height="49.5"/><rect x="855.78" y="368.5" width="1.78" height="49.5"/><rect x="858.46" y="368.5" width="1.78" height="49.5"/><rect x="862.03" y="368.5" width="1.78" height="49.5"/><rect x="864.71" y="368.5" width="1.78" height="49.5"/><rect x="867.39" y="368.5" width="1.78" height="49.5"/><rect x="870.95" y="368.5" width="1.78" height="49.5"/><rect x="873.63" y="368.6" width="1.78" height="49.4"/><rect x="876.31" y="368.6" width="1.78" height="49.4"/><rect x="878.99" y="368.6" width="1.78" height="49.4"/><rect x="882.56" y="368.6" width="1.78" height="49.4"/><rect x="885.23" y="368.6" width="1.78" height="49.4"/><rect x="887.91" y="368.6" width="1.78" height="49.4"/><rect x="890.59" y="368.6" width="1.78" height="49.4"/><rect x="894.16" y="368.6" width="1.78" height="49.4"/><rect x="896.83" y="368.6" width="1.78" height="49.4"/><rect x="899.51" y="368.6" width="1.78" height="49.4"/><rect x="902.19" y="368.6" width="1.78" height="49.4"/><rect x="905.76" y="368.6" width="1.78" height="49.4"/><rect x="908.43" y="368.6" width="1.78" height="49.4"/><rect x="911.11" y="368.6" width="1.78" height="49.4"/><rect x="913.79" y="368.6" width="1.78" height="49.4"/><rect x="917.36" y="368.6" width="1.78" height="49.4"/><rect x="920.04" y="368.6" width="1.78" height="49.4"/><rect x="922.71" y="368.6" width="1.78" height="49.4"/><rect x="926.28" y="368.6" width="1.78" height="49.4"/><rect x="928.96" y="368.6" width="1.78" height="49.4"/></g>
<path d="M92 385.5 H931" stroke="#666" stroke-opacity="0.1" fill="none"/>
</svg>
</body></html>
